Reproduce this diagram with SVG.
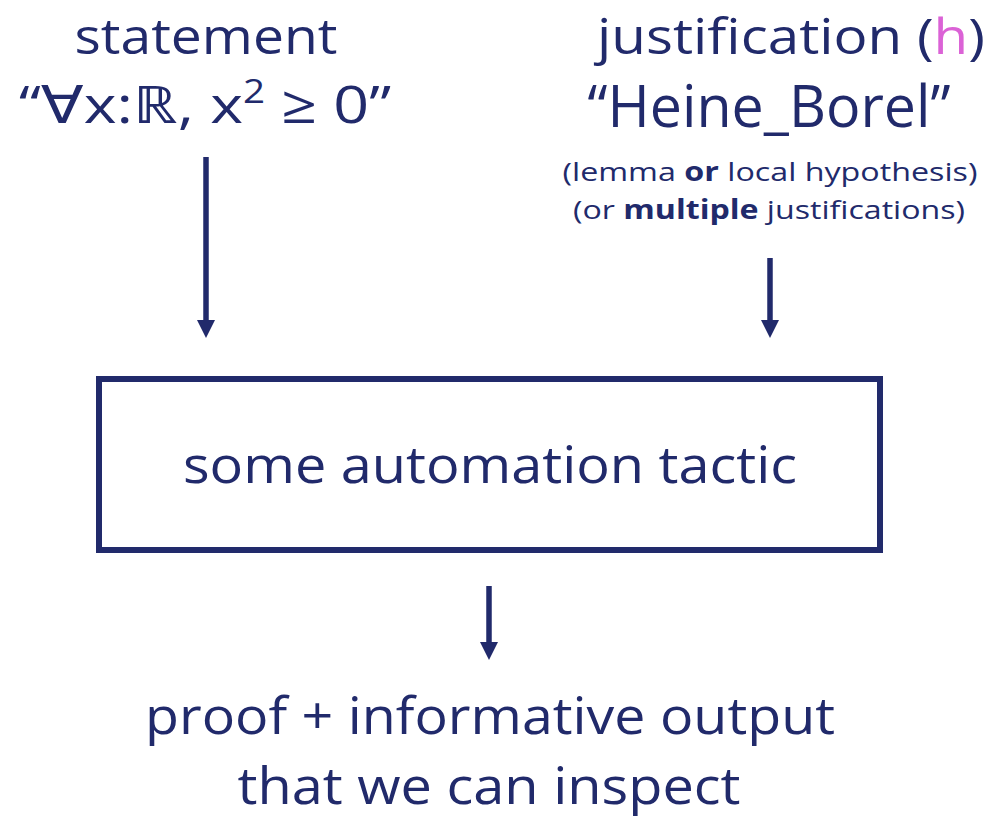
<svg xmlns="http://www.w3.org/2000/svg" width="989" height="822" viewBox="0 0 989 822">
<defs>
<style>
.t{font-family:"Open Sans","Noto Sans","DejaVu Sans",sans-serif;fill:#212A6B;text-anchor:middle}
.b{font-weight:bold}
.c{stroke:#212A6B;stroke-width:5.5;fill:none}
</style>
<marker id="ah" viewBox="0 0 18 18" markerWidth="18" markerHeight="18" refX="6" refY="9" orient="auto" markerUnits="userSpaceOnUse">
<path d="M0,0 L18,9 L0,18 z" fill="#212A6B"/>
</marker>
</defs>
<rect width="989" height="822" fill="#fff"/>
<g id="statement">
<text class="t" x="206" y="54" font-size="50" textLength="263" lengthAdjust="spacingAndGlyphs">statement</text>
<text class="t" x="205" y="123" font-size="52" textLength="372" lengthAdjust="spacingAndGlyphs">“∀x:ℝ, x<tspan font-size="32" dy="-20">2</tspan><tspan dy="20"> ≥ 0”</tspan></text>
</g>
<g id="justification">
<text class="t" x="791" y="54" font-size="50" textLength="388" lengthAdjust="spacingAndGlyphs">justification (<tspan fill="#DB62D6">h</tspan>)</text>
<text class="t" x="769" y="127" font-size="58" textLength="363" lengthAdjust="spacingAndGlyphs">“Heine_Borel”</text>
<text class="t" x="770" y="181" font-size="26" textLength="415" lengthAdjust="spacingAndGlyphs">(lemma <tspan class="b">or</tspan> local hypothesis)</text>
<text class="t" x="769" y="219" font-size="26" textLength="392" lengthAdjust="spacingAndGlyphs">(or <tspan class="b">multiple</tspan> justifications)</text>
</g>
<g id="tactic">
<rect x="99" y="379" width="781" height="171" fill="none" stroke="#212A6B" stroke-width="6"/>
<text class="t" x="490" y="483" font-size="52" textLength="614" lengthAdjust="spacingAndGlyphs">some automation tactic</text>
</g>
<g id="output">
<text class="t" x="490" y="734" font-size="52" textLength="690" lengthAdjust="spacingAndGlyphs">proof + informative output</text>
<text class="t" x="489" y="804" font-size="52" textLength="503" lengthAdjust="spacingAndGlyphs">that we can inspect</text>
</g>
<g id="connectors">
<line class="c" x1="206" y1="157" x2="206" y2="326" marker-end="url(#ah)"/>
<line class="c" x1="770" y1="258" x2="770" y2="326" marker-end="url(#ah)"/>
<line class="c" x1="489" y1="586" x2="489" y2="648" marker-end="url(#ah)"/>
</g>
</svg>
